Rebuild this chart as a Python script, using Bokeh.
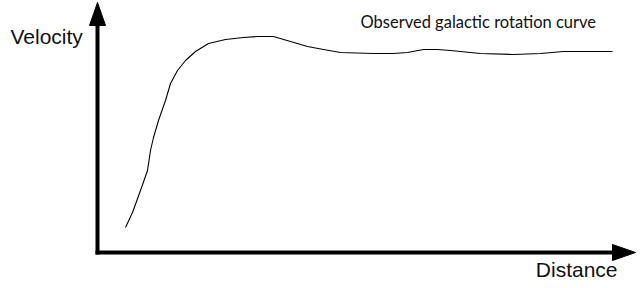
from bokeh.plotting import figure
from bokeh.models import Range1d
from bokeh.core.properties import value
from bokeh.embed import file_html
from bokeh.resources import INLINE

# Observed rotation curve (arbitrary units: distance, velocity)
distance = [28, 35, 43, 50, 53, 56, 61, 68, 73, 80, 88, 98, 111, 128, 146, 160, 176,
            193, 210, 226, 243, 276, 296, 310, 326, 340, 353, 383, 416, 443, 466, 515]
velocity = [25, 40, 62, 82, 102, 115, 132, 152, 169, 182, 192, 201, 209, 213, 215, 216, 216,
            211, 206, 203, 200, 199, 199, 200, 203, 203, 202, 199, 198, 199, 201, 201]

title_text = "Observed galactic rotation curve"
x_label = "Distance"
y_label = "Velocity"

p = figure(width=640, height=288, output_backend="svg", toolbar_location=None,
           x_range=Range1d(-97, 543), y_range=Range1d(-36, 252),
           min_border=0, outline_line_color=None)
p.axis.visible = False
p.grid.visible = False
p.background_fill_color = "white"
p.border_fill_color = "white"

# axes with arrow heads
x_tip, y_tip = 538, 250
head_len, head_half = 23, 8
p.segment(x0=[0, -2], y0=[-2, 0], x1=[0, x_tip - head_len + 2], y1=[y_tip - head_len + 2, 0],
          line_color="black", line_width=4)
p.patches(xs=[[-head_half, head_half, 0], [x_tip - head_len, x_tip - head_len, x_tip]],
          ys=[[y_tip - head_len, y_tip - head_len, y_tip], [head_half, -head_half, 0]],
          fill_color="black", line_color="black", line_width=1)

# curve
p.line(distance, velocity, line_color="black", line_width=1.1, line_join="round")

# texts
p.text(x=[-87], y=[216], text=[y_label], text_font=value("Liberation Sans"),
       text_font_size="21px", text_color="#111111", text_baseline="alphabetic",
       text_align="left")
p.text(x=[520], y=[-17], text=[x_label], text_font=value("Liberation Sans"),
       text_font_size="21px", text_color="#111111", text_baseline="alphabetic",
       text_align="right")
p.text(x=[263], y=[231], text=[title_text], text_font=value("Lato"),
       text_font_size="16.5px", text_color="#111111", text_baseline="alphabetic",
       text_align="left")

open("out.html", "w").write(file_html(p, INLINE))
